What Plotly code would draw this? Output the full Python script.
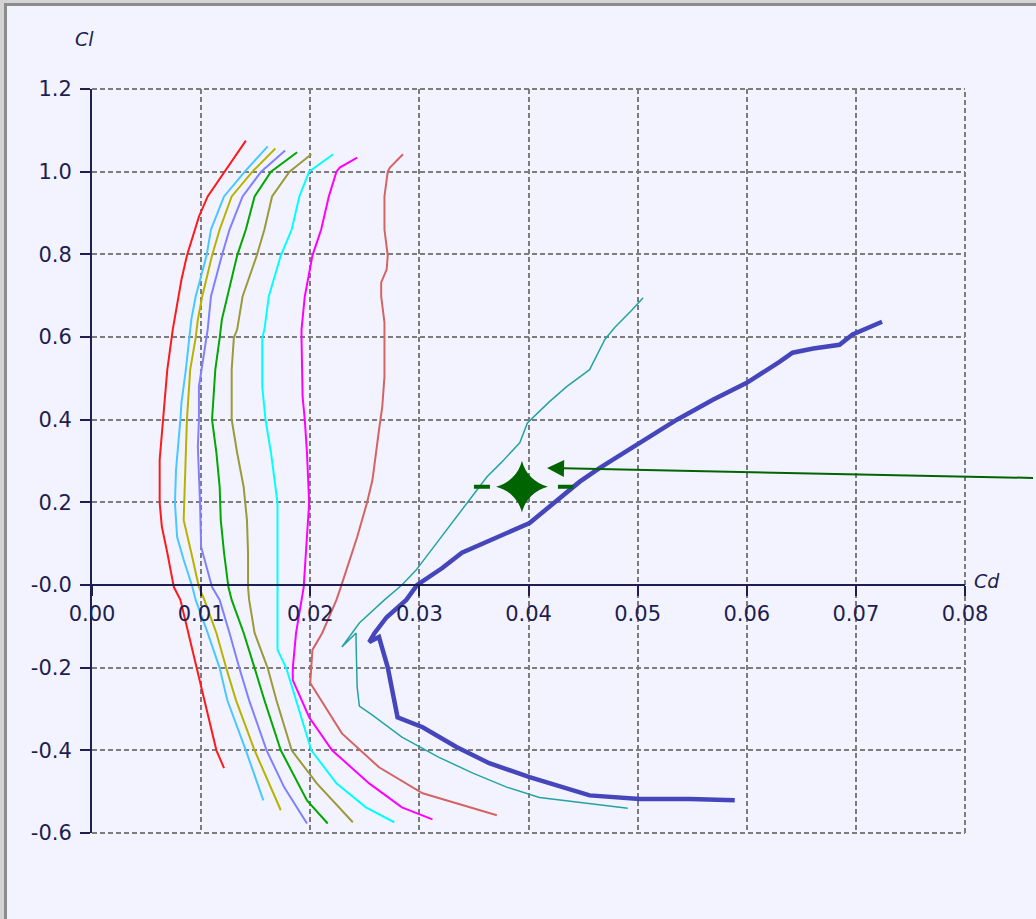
import plotly.graph_objects as go

# ---------------- data (Cd, Cl) ----------------
red_cd = [0.0141, 0.0122, 0.0106, 0.0098, 0.0087, 0.0082, 0.0074, 0.0069, 0.0065, 0.0062,
          0.0062, 0.0064, 0.0069, 0.0075, 0.0081, 0.0096, 0.0114, 0.0121]
red_cl = [1.075, 1.000, 0.940, 0.891, 0.797, 0.739, 0.618, 0.521, 0.400, 0.303,
          0.199, 0.141, 0.078, -0.005, -0.036, -0.201, -0.400, -0.443]

sky_cd = [0.0161, 0.0140, 0.0121, 0.0109, 0.0105, 0.0095, 0.0091, 0.0086, 0.0082, 0.0081,
          0.0077, 0.0076, 0.0078, 0.0084, 0.0092, 0.0095, 0.0106, 0.0117, 0.0124, 0.0141, 0.0157]
sky_cl = [1.061, 1.000, 0.940, 0.860, 0.797, 0.698, 0.642, 0.521, 0.441, 0.400,
          0.279, 0.199, 0.116, 0.061, -0.005, -0.036, -0.116, -0.201, -0.279, -0.400, -0.521]

yel_cd = [0.0168, 0.0147, 0.0128, 0.0117, 0.0110, 0.0101, 0.0097, 0.0095, 0.0090, 0.0087,
          0.0086, 0.0085, 0.0084, 0.0091, 0.0098, 0.0103, 0.0114, 0.0123, 0.0132, 0.0149, 0.0173]
yel_cl = [1.056, 1.000, 0.940, 0.860, 0.797, 0.698, 0.642, 0.598, 0.521, 0.400,
          0.320, 0.223, 0.157, 0.078, -0.005, -0.036, -0.116, -0.201, -0.279, -0.400, -0.545]

per_cd = [0.0177, 0.0155, 0.0138, 0.0126, 0.0119, 0.0109, 0.0106, 0.0100, 0.0098, 0.0098,
          0.0097, 0.0099, 0.0100, 0.0110, 0.0117, 0.0126, 0.0135, 0.0144, 0.0160, 0.0176, 0.0197]
per_cl = [1.051, 1.000, 0.940, 0.860, 0.797, 0.698, 0.618, 0.521, 0.480, 0.400,
          0.334, 0.199, 0.092, -0.005, -0.036, -0.116, -0.201, -0.279, -0.400, -0.489, -0.577]

grn_cd = [0.0188, 0.0164, 0.0149, 0.0141, 0.0133, 0.0124, 0.0119, 0.0117, 0.0113, 0.0110,
          0.0114, 0.0117, 0.0118, 0.0121, 0.0125, 0.0128, 0.0139, 0.0149, 0.0158, 0.0173,
          0.0197, 0.0216]
grn_cl = [1.047, 1.000, 0.940, 0.860, 0.797, 0.698, 0.642, 0.598, 0.521, 0.400,
          0.320, 0.237, 0.157, 0.078, -0.005, -0.036, -0.116, -0.201, -0.279, -0.400,
          -0.521, -0.577]

olv_cd = [0.0201, 0.0181, 0.0165, 0.0158, 0.0151, 0.0138, 0.0133, 0.0130, 0.0128, 0.0128,
          0.0133, 0.0139, 0.0142, 0.0143, 0.0143, 0.0144, 0.0149, 0.0161, 0.0169, 0.0183,
          0.0206, 0.0239]
olv_cl = [1.042, 1.000, 0.940, 0.860, 0.797, 0.698, 0.618, 0.598, 0.521, 0.400,
          0.320, 0.237, 0.157, 0.078, -0.005, -0.036, -0.116, -0.201, -0.279, -0.400,
          -0.480, -0.574]

cyn_cd = [0.0221, 0.0202, 0.0199, 0.0190, 0.0183, 0.0173, 0.0162, 0.0158, 0.0156, 0.0156,
          0.0159, 0.0164, 0.0170, 0.0170, 0.0170, 0.0170, 0.0178, 0.0187, 0.0201, 0.0224,
          0.0251, 0.0277]
cyn_cl = [1.042, 1.005, 1.000, 0.940, 0.860, 0.797, 0.698, 0.618, 0.598, 0.480,
          0.400, 0.320, 0.199, 0.078, -0.005, -0.157, -0.201, -0.279, -0.400, -0.480,
          -0.538, -0.574]

mag_cd = [0.0243, 0.0227, 0.0224, 0.0217, 0.0210, 0.0202, 0.0195, 0.0192, 0.0192, 0.0193,
          0.0195, 0.0197, 0.0199, 0.0197, 0.0196, 0.0194, 0.0192, 0.0187, 0.0184, 0.0184,
          0.0199, 0.0220, 0.0254, 0.0284, 0.0312]
mag_cl = [1.034, 1.010, 1.000, 0.940, 0.860, 0.797, 0.698, 0.618, 0.598, 0.455,
          0.400, 0.320, 0.199, 0.133, 0.078, -0.005, -0.036, -0.116, -0.201, -0.230,
          -0.320, -0.400, -0.480, -0.538, -0.567]

ird_cd = [0.0285, 0.0279, 0.0273, 0.0271, 0.0268, 0.0268, 0.0271, 0.0270, 0.0265, 0.0265,
          0.0268, 0.0268, 0.0266, 0.0263, 0.0261, 0.0257, 0.0252, 0.0243, 0.0228, 0.0224,
          0.0211, 0.0202, 0.0200, 0.0210, 0.0229, 0.0263, 0.0303, 0.0371]
ird_cl = [1.042, 1.025, 1.010, 1.000, 0.940, 0.860, 0.797, 0.763, 0.732, 0.698,
          0.635, 0.504, 0.431, 0.375, 0.334, 0.254, 0.199, 0.116, -0.005, -0.036,
          -0.116, -0.157, -0.237, -0.279, -0.359, -0.441, -0.504, -0.557]

tea_cd = [0.0505, 0.0495, 0.0479, 0.0470, 0.0456, 0.0450, 0.0435, 0.0419, 0.0407, 0.0399,
          0.0392, 0.0375, 0.0362, 0.0346, 0.0321, 0.0297, 0.0284, 0.0268, 0.0245, 0.0229,
          0.0242, 0.0242, 0.0243, 0.0245, 0.0257, 0.0284, 0.0318, 0.0349, 0.0380, 0.0410,
          0.0491]
tea_cl = [0.695, 0.666, 0.623, 0.594, 0.521, 0.509, 0.480, 0.443, 0.412, 0.392,
          0.344, 0.296, 0.262, 0.206, 0.121, 0.036, 0.000, -0.036, -0.092, -0.150,
          -0.116, -0.141, -0.247, -0.293, -0.315, -0.368, -0.417, -0.455, -0.489, -0.514,
          -0.540]

blu_cd = [0.0724, 0.0697, 0.0685, 0.0661, 0.0642, 0.0630, 0.0600, 0.0569, 0.0536, 0.0499,
          0.0465, 0.0447, 0.0401, 0.0339, 0.0321, 0.0298, 0.0288, 0.0270, 0.0259, 0.0254,
          0.0263, 0.0271, 0.0280, 0.0303, 0.0334, 0.0364, 0.0401, 0.0456, 0.0502, 0.0548,
          0.0589]
blu_cl = [0.637, 0.606, 0.581, 0.572, 0.562, 0.540, 0.489, 0.448, 0.400, 0.339,
          0.283, 0.250, 0.150, 0.078, 0.041, 0.000, -0.036, -0.078, -0.116, -0.138,
          -0.126, -0.199, -0.320, -0.344, -0.392, -0.431, -0.465, -0.509, -0.518, -0.518,
          -0.521]

# target point (star) with its horizontal bar, and arrow tip
pt_cd, pt_cl = 0.0394, 0.238
bar_cd = [0.0350, 0.0441]
arrow_cd, arrow_cl = 0.0417, 0.283

x_ticks = [0.0, 0.01, 0.02, 0.03, 0.04, 0.05, 0.06, 0.07, 0.08]
x_text = ["0.00", "0.01", "0.02", "0.03", "0.04", "0.05", "0.06", "0.07", "0.08"]
y_ticks = [1.2, 1.0, 0.8, 0.6, 0.4, 0.2, 0.0, -0.2, -0.4, -0.6]
y_text = ["1.2", "1.0", "0.8", "0.6", "0.4", "0.2", "-0.0", "-0.2", "-0.4", "-0.6"]

# ---------------- styling ----------------
W, H = 1036, 919
ML, MR, MT, MB = 92, 71, 89, 86
PW, PH = W - ML - MR, H - MT - MB
NAVY = "#1e1e50"
GREEN = "#006400"
GRID = "#7c7c7c"
GRID_DASH = "5px,3px"
FONT = "DejaVu Sans"

series = [
    (red_cd, red_cl, "#ff1a1a", 2),
    (sky_cd, sky_cl, "#48c8ff", 2),
    (yel_cd, yel_cl, "#b4b400", 2),
    (per_cd, per_cl, "#8080ff", 2),
    (grn_cd, grn_cl, "#00a800", 2),
    (olv_cd, olv_cl, "#9a9a3a", 2),
    (cyn_cd, cyn_cl, "#00ffff", 2),
    (mag_cd, mag_cl, "#ff00ff", 2),
    (ird_cd, ird_cl, "#d46464", 2),
    (tea_cd, tea_cl, "#22a4a4", 1.5),
    (blu_cd, blu_cl, "#4646bc", 4.5),
]

fig = go.Figure()
for cd, cl, col, w in series:
    fig.add_trace(go.Scatter(x=cd, y=cl, mode="lines", line=dict(color=col, width=w),
                             showlegend=False, hoverinfo="skip"))

fig.add_trace(go.Scatter(x=bar_cd, y=[pt_cl, pt_cl], mode="lines",
                         line=dict(color=GREEN, width=4, dash="16px,68px"),
                         showlegend=False, hoverinfo="skip"))
fig.add_trace(go.Scatter(x=[pt_cd], y=[pt_cl], mode="markers",
                         marker=dict(symbol="star-diamond", size=37, color=GREEN,
                                     line=dict(width=0)),
                         showlegend=False, hoverinfo="skip"))

def px_x(p):
    return (p - ML) / PW

def px_y(p):
    return (H - MB - p) / PH

edge_line = dict(color=GRID, width=2, dash=GRID_DASH)
shapes = [
    dict(type="rect", xref="paper", yref="paper", x0=px_x(0), x1=px_x(W), y0=px_y(0), y1=px_y(3),
         fillcolor="#d4d4d4", line=dict(width=0)),
    dict(type="rect", xref="paper", yref="paper", x0=px_x(0), x1=px_x(4), y0=px_y(0), y1=px_y(H),
         fillcolor="#d4d4d4", line=dict(width=0)),
    dict(type="rect", xref="paper", yref="paper", x0=px_x(4), x1=px_x(W), y0=px_y(3), y1=px_y(6),
         fillcolor="#8c8c8c", line=dict(width=0)),
    dict(type="rect", xref="paper", yref="paper", x0=px_x(4), x1=px_x(7), y0=px_y(3), y1=px_y(H),
         fillcolor="#8c8c8c", line=dict(width=0)),
    # grid lines on the plot-area edges (plotly omits those); paper refs avoid clipping
    dict(type="line", xref="paper", yref="paper", x0=0, x1=1, y0=1, y1=1,
         line=edge_line, layer="below"),
    dict(type="line", xref="paper", yref="paper", x0=0, x1=1, y0=0, y1=0,
         line=edge_line, layer="below"),
    dict(type="line", xref="paper", yref="paper", x0=1, x1=1, y0=0, y1=1,
         line=edge_line, layer="below"),
]

annotations = [
    dict(x=arrow_cd, y=arrow_cl, xref="x", yref="y", text=" ", showarrow=True,
         ax=540, ay=10, axref="pixel", ayref="pixel", arrowhead=2, arrowsize=1.7,
         arrowwidth=2, arrowcolor=GREEN, standoff=0),
    dict(x=px_x(84), y=px_y(39), xref="paper", yref="paper", text="<i>Cl</i>",
         showarrow=False, xanchor="center", yanchor="middle",
         font=dict(family=FONT, size=19, color=NAVY)),
    dict(x=px_x(987), y=px_y(581), xref="paper", yref="paper", text="<i>Cd</i>",
         showarrow=False, xanchor="center", yanchor="middle",
         font=dict(family=FONT, size=19, color=NAVY)),
]

axis_common = dict(
    showline=True, linecolor=NAVY, linewidth=2,
    ticks="outside", ticklen=10, tickwidth=2, tickcolor=NAVY,
    showgrid=True, gridcolor=GRID, gridwidth=2, griddash=GRID_DASH,
    zeroline=False, tickfont=dict(family=FONT, size=21, color=NAVY),
)

fig.update_layout(
    width=W, height=H, autosize=False,
    margin=dict(l=ML, r=MR, t=MT, b=MB, pad=0),
    paper_bgcolor="#f3f3ff", plot_bgcolor="#f3f3ff",
    showlegend=False, hovermode=False,
    xaxis=dict(range=[0, 0.08], tickmode="array", tickvals=x_ticks, ticktext=x_text,
               anchor="free", position=0.6 / 1.8, **axis_common),
    yaxis=dict(range=[-0.6, 1.2], tickmode="array", tickvals=y_ticks, ticktext=y_text,
               ticklabelstandoff=4, **axis_common),
    shapes=shapes, annotations=annotations,
)

fig.write_html("out.html")
